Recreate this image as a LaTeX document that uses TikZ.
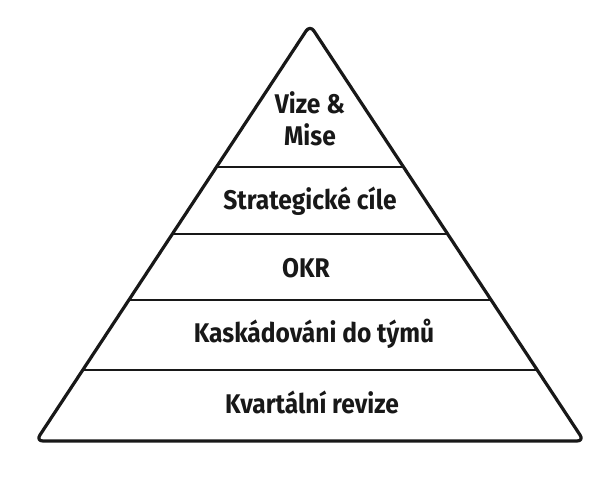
\documentclass[tikz,border=0pt]{standalone}
\usepackage{fontspec}
\setmainfont{Fira Sans}
\newfontfamily\layerfont[FakeStretch=0.91]{Fira Sans}
\usepackage{tikz}
\usepackage{xcolor}
\definecolor{inkdark}{RGB}{24,24,24}

\begin{document}
\begin{tikzpicture}[x=1pt, y=-1pt,
  layer/.style={anchor=base, text=inkdark, font=\layerfont\fontsize{27}{32}\selectfont\bfseries},
  divider/.style={line width=2.2pt, draw=inkdark}]
\useasboundingbox (0,0) rectangle (602,491);

% Pyramid outline
\coordinate (apex) at (310,25);
\coordinate (bl) at (36,441);
\coordinate (br) at (584,441);
\draw[line width=3.2pt, draw=inkdark, rounded corners=7pt, line join=round]
  (bl) -- (apex) -- (br) -- cycle;

% Dividers between layers
\foreach \y in {167,234,300,370}
  \draw[divider] ({36+(441-\y)/416*274},\y) -- ({584-(441-\y)/416*274},\y);

% Layer labels
\node[layer] (vize) at (310,113) {Vize \&};
\node[layer] (mise) at (310,145) {Mise};
\node[layer] (cile) at (310,209) {Strategické cíle};
\node[layer] (okr) at (306,277) {OKR};
\node[layer] (kask) at (314,342) {Kaskádováni do týmů};
\node[layer] (revize) at (312,413) {Kvartální revize};
\end{tikzpicture}
\end{document}
